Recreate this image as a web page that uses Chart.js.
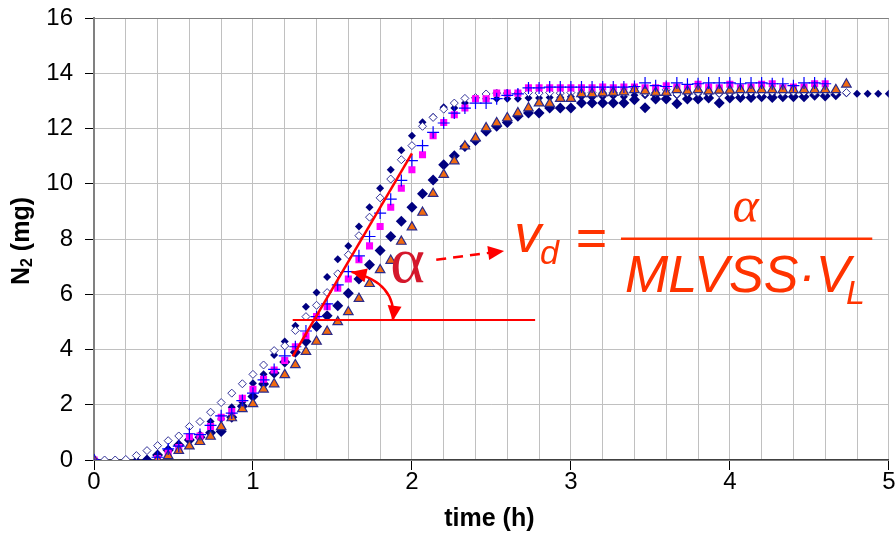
<!DOCTYPE html>
<html>
<head>
<meta charset="utf-8">
<title>N2 production</title>
<script src="https://cdn.jsdelivr.net/npm/chart.js@4.4.1/dist/chart.umd.min.js"></script>
<style>
    html, body { margin: 0; padding: 0; background: #ffffff; }
    #wrap { width: 896px; height: 544px; }
</style>
</head>
<body>
<div id="wrap"><canvas id="n2Chart" width="896" height="544"></canvas></div>
<script>
// ==================== DATA ====================

// sampling times (min), converted to hours for the x axis
const minutes = [0, 4, 8, 12, 16, 20, 24, 28, 32, 36, 40, 44, 48, 52, 56, 60,
    64, 68, 72, 76, 80, 84, 88, 92, 96, 100, 104, 108, 112, 116, 120,
    124, 128, 132, 136, 140, 144, 148, 152, 156, 160, 164, 168, 172, 176, 180,
    184, 188, 192, 196, 200, 204, 208, 212, 216, 220, 224, 228, 232, 236, 240,
    244, 248, 252, 256, 260, 264, 268, 272, 276, 280, 284, 288, 292, 296, 300];

const xTicks = [0, 1, 2, 3, 4, 5];
const yTicks = [0, 2, 4, 6, 8, 10, 12, 14, 16];

// N2 (mg) per run, null where no point was plotted
const runBluePlus = [0, null, null, null, null, null, 0.10, 0.40, 0.50, 0.95, 0.92, 1.25, 1.60, 1.70, 2.15, 2.42,
    2.90, 3.28, 3.77, 4.10, 4.67, 5.19, 5.65, 6.34, 6.82, 7.39, 8.09, 8.94, 9.44, 10.12, 10.84,
    11.38, 11.86, 12.20, 12.56, 12.74, 12.92, 12.92, 13.08, 13.20, 13.25, 13.47, 13.47, 13.50, 13.50, 13.50,
    13.50, 13.50, 13.50, 13.50, 13.50, 13.52, 13.65, 13.55, 13.52, 13.65, 13.60, 13.62, 13.65, 13.65, 13.65,
    13.62, 13.65, 13.65, 13.62, 13.62, 13.55, 13.65, 13.65, 13.62];

const runTriangle = [0, null, null, null, null, null, 0, 0.15, 0.34, 0.50, 0.66, 0.85, 1.20, 1.52, 1.85, 2.03,
    2.56, 2.75, 3.08, 3.44, 3.92, 4.29, 4.65, 5.00, 5.36, 5.84, 6.38, 6.88, 7.22, 7.91, 8.43,
    8.96, 9.64, 10.33, 10.82, 11.36, 11.65, 12.02, 12.20, 12.38, 12.56, 12.74, 12.92, 12.90, 13.08, 13.08,
    13.25, 13.25, 13.28, 13.30, 13.32, 13.40, 13.35, 13.30, 13.30, 13.40, 13.35, 13.40, 13.35, 13.38, 13.38,
    13.40, 13.40, 13.40, 13.40, 13.40, 13.40, 13.40, 13.40, 13.40, 13.40, 13.60];

const runMagenta = [0, null, null, null, null, null, 0.05, 0.25, 0.45, 0.84, 0.87, 1.21, 1.55, 1.75, 2.23, 2.56,
    2.92, 3.26, 3.60, 4.10, 4.50, 5.19, 5.55, 6.22, 6.55, 7.25, 7.75, 8.45, 9.15, 9.84, 10.51,
    11.05, 11.74, 12.22, 12.50, 12.74, 13.08, 13.08, 13.28, 13.28, 13.28, 13.47, 13.47, 13.47, 13.47, 13.47,
    13.47, 13.47, 13.50, 13.47, 13.50, 13.50, 13.47, 13.47, 13.55, 13.50, 13.47, 13.60, 13.50, 13.47, 13.60,
    13.47, 13.50, 13.60, 13.62, 13.47, 13.50, 13.50, 13.62, 13.62];

const runOpenDiamond = [0, 0, 0, 0.02, 0.16, 0.34, 0.52, 0.70, 0.87, 1.21, 1.39, 1.73, 2.08, 2.42, 2.76, 3.10,
    3.44, 3.96, 4.13, 4.69, 5.19, 5.60, 6.06, 6.74, 7.43, 8.12, 8.79, 9.49, 10.17, 10.87, 11.38,
    12.08, 12.40, 12.70, 12.92, 13.09, 13.12, 13.25, 13.28, 13.28, 13.28, 13.30, 13.28, 13.30, 13.28, 13.30,
    13.28, 13.30, 13.28, 13.30, 13.30, 13.47, 13.28, 13.30, 13.40, 13.25, 13.30, 13.30, 13.30, 13.28, 13.30,
    13.30, 13.32, 13.30, 13.32, 13.30, 13.32, 13.32, 13.32, 13.34, 13.32, 13.30];

const runSmallDiamond = [0, null, null, 0, 0, 0.02, 0.18, 0.39, 0.55, 0.78, 0.92, 1.39, 1.48, 1.91, 2.10, 2.78,
    3.10, 3.80, 4.29, 4.86, 5.55, 6.06, 6.62, 7.27, 7.75, 8.45, 9.15, 9.84, 10.51, 11.21, 11.74,
    12.23, 12.42, 12.77, 12.74, 12.92, 13.08, 13.08, 13.08, 13.08, 13.08, 13.10, 13.10, 13.12, 13.12, 13.15,
    13.15, 13.12, 13.15, 13.18, 13.15, 13.20, 13.20, 13.18, 13.22, 13.20, 13.22, 13.25, 13.22, 13.25, 13.25,
    13.25, 13.25, 13.28, 13.25, 13.28, 13.28, 13.28, 13.28, 13.30, 13.28, 13.28, 13.26, 13.26, 13.26, 13.26];

const runLargeDiamond = [0, null, null, null, null, 0, 0.18, 0.35, 0.54, 0.72, 0.82, 0.99, 1.03, 1.55, 1.95, 2.30,
    2.75, 3.15, 3.55, 3.90, 4.29, 4.83, 5.22, 5.58, 6.04, 6.55, 7.07, 7.58, 8.09, 8.64, 9.15,
    9.64, 10.14, 10.69, 11.01, 11.35, 11.57, 11.90, 12.08, 12.22, 12.44, 12.56, 12.56, 12.74, 12.74, 12.74,
    12.92, 12.92, 12.92, 12.92, 12.92, 13.04, 12.75, 13.07, 13.07, 12.90, 13.07, 13.07, 13.10, 12.92, 13.10,
    13.12, 13.12, 13.15, 13.12, 13.15, 13.15, 13.15, 13.20, 13.18, 13.22];

// slope construction (h, mg)
const tangentLine = [{ x: 1.25, y: 3.75 }, { x: 2.0, y: 11.1 }];
const baseLine = [{ x: 1.25, y: 5.07 }, { x: 2.775, y: 5.07 }];

// ==================== HELPERS ====================

const SANS = "'Liberation Sans Narrow', 'Liberation Sans', Arial, sans-serif";
const isInt = v => Math.abs(v - Math.round(v)) < 1e-6;

function toPoints(values) {
    return values
        .map((v, i) => ({ x: minutes[i] / 60, y: v }))
        .filter(p => p.y !== null);
}

function arrowHead(ctx, tipX, tipY, dirX, dirY, len, half) {
    const d = Math.hypot(dirX, dirY);
    const ux = dirX / d, uy = dirY / d;
    const bx = tipX - ux * len, by = tipY - uy * len;
    ctx.beginPath();
    ctx.moveTo(tipX, tipY);
    ctx.lineTo(bx - uy * half, by + ux * half);
    ctx.lineTo(bx + uy * half, by - ux * half);
    ctx.closePath();
    ctx.fill();
}

// ==================== ANNOTATIONS ====================

const notes = {
    arcFrom: [1.62, 6.81], arcCtrl: [1.908, 6.41], arcTo: [1.88, 5.04],
    dashFrom: [2.153, 7.25], dashTo: [2.58, 7.57],
    alpha: [1.864, 6.45],
    v: [2.643, 7.54], d: [2.806, 7.10], eq: [3.03, 7.39],
    barFrom: [3.315, 8.01], barTo: [4.896, 8.01],
    numer: [4.099, 8.62], denom: [3.34, 6.09], sub: [4.73, 5.65]
};

const annotationPlugin = {
    id: 'annotations',
    afterDatasetsDraw(chart) {
        const { ctx, scales } = chart;
        const P = p => [scales.x.getPixelForValue(p[0]), scales.y.getPixelForValue(p[1])];

        ctx.save();
        // curved double arrow showing the angle
        const a0 = P(notes.arcFrom), ac = P(notes.arcCtrl), a1 = P(notes.arcTo);
        ctx.strokeStyle = '#ff0000';
        ctx.fillStyle = '#ff0000';
        ctx.lineWidth = 2.5;
        ctx.beginPath();
        ctx.moveTo(a0[0], a0[1]);
        ctx.quadraticCurveTo(ac[0], ac[1], a1[0], a1[1]);
        ctx.stroke();
        arrowHead(ctx, a0[0], a0[1], a0[0] - ac[0], a0[1] - ac[1], 15, 7);
        arrowHead(ctx, a1[0], a1[1], a1[0] - ac[0], a1[1] - ac[1], 15, 7);

        // dashed arrow alpha -> formula
        const d0 = P(notes.dashFrom), d1 = P(notes.dashTo);
        const dl = Math.hypot(d1[0] - d0[0], d1[1] - d0[1]);
        const cut = 14 / dl;
        ctx.setLineDash([10, 7]);
        ctx.beginPath();
        ctx.moveTo(d0[0], d0[1]);
        ctx.lineTo(d1[0] - (d1[0] - d0[0]) * cut, d1[1] - (d1[1] - d0[1]) * cut);
        ctx.stroke();
        ctx.setLineDash([]);
        arrowHead(ctx, d1[0], d1[1], d1[0] - d0[0], d1[1] - d0[1], 16, 7);

        // big alpha
        ctx.textBaseline = 'alphabetic';
        ctx.textAlign = 'left';
        let p = P(notes.alpha);
        ctx.fillStyle = '#d4182c';
        ctx.font = "66px 'Liberation Serif', 'DejaVu Serif', serif";
        ctx.fillText('α', p[0], p[1]);

        // v_d = alpha / (MLVSS·V_L)
        ctx.fillStyle = '#ff3300';
        ctx.strokeStyle = '#ff3300';
        p = P(notes.v);
        ctx.font = "italic 54px 'Liberation Sans', Arial, sans-serif";
        ctx.fillText('v', p[0], p[1]);
        p = P(notes.d);
        ctx.font = "italic 34px 'Liberation Sans', Arial, sans-serif";
        ctx.fillText('d', p[0], p[1]);
        p = P(notes.eq);
        ctx.font = "54px 'Liberation Sans', Arial, sans-serif";
        ctx.fillText('=', p[0], p[1]);

        const b0 = P(notes.barFrom), b1 = P(notes.barTo);
        ctx.lineWidth = 2.5;
        ctx.beginPath();
        ctx.moveTo(b0[0], b0[1]);
        ctx.lineTo(b1[0], b1[1]);
        ctx.stroke();

        p = P(notes.numer);
        ctx.textAlign = 'center';
        ctx.font = "italic 50px 'Liberation Serif', 'DejaVu Serif', serif";
        ctx.fillText('α', p[0], p[1]);

        ctx.textAlign = 'left';
        p = P(notes.denom);
        ctx.font = "italic 52px 'Liberation Sans', Arial, sans-serif";
        ctx.fillText('MLVSS·V', p[0], p[1]);
        p = P(notes.sub);
        ctx.font = "italic 34px 'Liberation Sans', Arial, sans-serif";
        ctx.fillText('L', p[0], p[1]);
        ctx.restore();
    },
    afterDraw(chart) {
        const { ctx, chartArea } = chart;
        ctx.save();
        ctx.fillStyle = '#000000';
        ctx.textBaseline = 'middle';

        // x title
        ctx.textAlign = 'center';
        ctx.font = 'bold 25px ' + SANS;
        ctx.fillText('time (h)', (chartArea.left + chartArea.right) / 2 - 2, 519);

        // y title with subscript
        const big = 'bold 25px ' + SANS, small = 'bold 16px ' + SANS;
        ctx.font = big;
        const wN = ctx.measureText('N').width;
        const wRest = ctx.measureText(' (mg)').width;
        ctx.font = small;
        const w2 = ctx.measureText('2').width;
        const total = wN + w2 + wRest;
        ctx.translate(22, (chartArea.top + chartArea.bottom) / 2 + 2);
        ctx.rotate(-Math.PI / 2);
        ctx.textAlign = 'left';
        let cx = -total / 2;
        ctx.font = big;
        ctx.fillText('N', cx, 0);
        cx += wN;
        ctx.font = small;
        ctx.fillText('2', cx, 6);
        cx += w2;
        ctx.font = big;
        ctx.fillText(' (mg)', cx, 0);
        ctx.restore();
    }
};

// ==================== CHART ====================

const ctx = document.getElementById('n2Chart');

new Chart(ctx, {
    type: 'scatter',
    data: {
        datasets: [
            { label: 'tangent', data: tangentLine, showLine: true, borderColor: '#ff0000', borderWidth: 2.5, pointRadius: 0 },
            { label: 'base', data: baseLine, showLine: true, borderColor: '#ff0000', borderWidth: 2, pointRadius: 0 },
            {
                label: 'run 5', data: toPoints(runBluePlus),
                pointStyle: 'cross', pointRadius: 6, borderColor: '#0000ff', backgroundColor: '#0000ff', borderWidth: 1.2
            },
            {
                label: 'run 6', data: toPoints(runTriangle),
                pointStyle: 'triangle', pointRadius: 5.5, backgroundColor: '#f06a10', borderColor: '#2a2a8a', borderWidth: 1.2
            },
            {
                label: 'run 4', data: toPoints(runMagenta),
                pointStyle: 'rect', pointRadius: 5, backgroundColor: '#ff00ff', borderColor: '#ff00ff', borderWidth: 0
            },
            {
                label: 'run 3', data: toPoints(runOpenDiamond),
                pointStyle: 'rectRot', pointRadius: 4, backgroundColor: '#ffffff', borderColor: '#333399', borderWidth: 1
            },
            {
                label: 'run 2', data: toPoints(runSmallDiamond),
                pointStyle: 'rectRot', pointRadius: 4, backgroundColor: '#000080', borderColor: '#000080', borderWidth: 0
            },
            {
                label: 'run 1', data: toPoints(runLargeDiamond),
                pointStyle: 'rectRot', pointRadius: 5.5, backgroundColor: '#000080', borderColor: '#000080', borderWidth: 0
            }
        ]
    },
    options: {
        responsive: false,
        animation: false,
        events: [],
        layout: { padding: { left: 0, right: 7, top: 18, bottom: 0 } },
        plugins: {
            legend: { display: false },
            tooltip: { enabled: false }
        },
        scales: {
            x: {
                type: 'linear',
                min: xTicks[0],
                max: xTicks[xTicks.length - 1],
                afterFit: scale => {
                    scale.height = 84;
                    scale.paddingLeft = 0;
                    scale.paddingRight = 0;
                },
                ticks: {
                    stepSize: 0.2,
                    autoSkip: false,
                    maxRotation: 0,
                    padding: -2,
                    color: '#000000',
                    font: { family: SANS, size: 24 },
                    callback: v => (isInt(v) && xTicks.includes(Math.round(v))) ? String(Math.round(v)) : ''
                },
                grid: {
                    color: '#c0c0c0',
                    lineWidth: 1,
                    tickLength: 10,
                    tickColor: c => isInt(c.tick.value) ? '#000000' : 'rgba(0,0,0,0)'
                },
                border: { color: '#404040', width: 1.5 }
            },
            y: {
                min: yTicks[0],
                max: yTicks[yTicks.length - 1],
                afterFit: scale => {
                    scale.width = 94;
                    scale.paddingTop = 0;
                    scale.paddingBottom = 0;
                },
                ticks: {
                    stepSize: yTicks[1] - yTicks[0],
                    padding: 12,
                    color: '#000000',
                    font: { family: SANS, size: 24 }
                },
                grid: {
                    color: c => c.tick.value === 16 ? '#808080' : '#c0c0c0',
                    lineWidth: 1,
                    tickLength: 9,
                    tickColor: '#000000'
                },
                border: { color: '#808080', width: 2 }
            }
        }
    },
    plugins: [annotationPlugin]
});
</script>
</body>
</html>
